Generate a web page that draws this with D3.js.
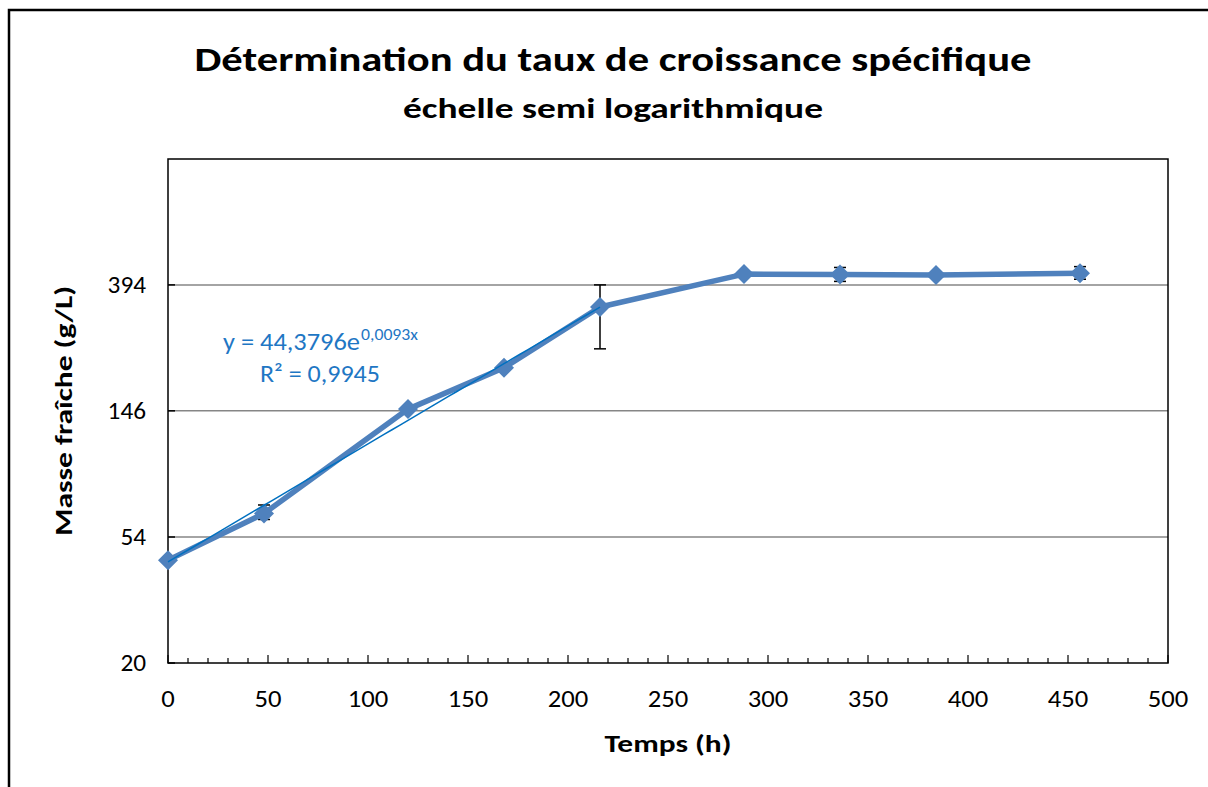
<!DOCTYPE html>
<html>
<head>
<meta charset="utf-8">
<script src="https://cdn.jsdelivr.net/npm/d3@7.9.0/dist/d3.min.js"></script>
<style>
  body { margin: 0; background: #fff; }
  svg { display: block; font-family: Carlito, Calibri, Lato, "Open Sans", sans-serif; }
</style>
</head>
<body>
<svg width="1208" height="787"></svg>
<script>
// heures de prélèvement
const hours = [0, 48, 120, 168, 216, 288, 336, 384, 456];
// masse fraîche (g/L)
const masse = [45, 65, 148, 205, 331, 429, 428, 426, 432];
// bornes des barres d'erreur (bas / haut), null = pas de barre
const errLow = [null, 62, null, null, 238, null, 405, null, 412];
const errHigh = [null, 69.5, null, null, 394, null, 452, null, 455];

const yTickLabels = [20, 54, 146, 394];
const xTickLabels = [0, 50, 100, 150, 200, 250, 300, 350, 400, 450, 500];

// courbe de tendance exponentielle (Excel)
const trendA = 44.3796, trendB = 0.0093;
const trendRange = [0, 216];

const svg = d3.select('svg');
const plotL = 168, plotR = 1168, plotT = 159, plotB = 663;

// cadre extérieur
svg.append('rect')
    .attr('x', 9).attr('y', 10)
    .attr('width', 1300).attr('height', 900)
    .attr('fill', 'none').attr('stroke', '#000').attr('stroke-width', 2.5);

const x = d3.scaleLinear().domain([0, 500]).range([plotL, plotR]);
const y = d3.scaleLog().base(2.7).domain([20, 20 * Math.pow(2.7, 4)]).range([plotB, plotT]);

// grille
svg.append('g').selectAll('line')
    .data(yTickLabels.slice(1))
    .join('line')
    .attr('x1', plotL).attr('x2', plotR)
    .attr('y1', d => y(d)).attr('y2', d => y(d))
    .attr('stroke', '#868686').attr('stroke-width', 1.5);

// cadre du graphe
svg.append('rect')
    .attr('x', plotL).attr('y', plotT)
    .attr('width', plotR - plotL).attr('height', plotB - plotT)
    .attr('fill', 'none').attr('stroke', '#000').attr('stroke-width', 1.5);

// axe x : graduations vers l'intérieur
const minor = d3.range(0, 501, 10);
svg.append('g').selectAll('line')
    .data(minor)
    .join('line')
    .attr('x1', d => x(d)).attr('x2', d => x(d))
    .attr('y1', plotB).attr('y2', d => d % 50 === 0 ? plotB - 8 : plotB - 5)
    .attr('stroke', '#000').attr('stroke-width', 1.2);

svg.append('g').selectAll('text')
    .data(xTickLabels)
    .join('text')
    .attr('x', d => x(d)).attr('y', 707)
    .attr('text-anchor', 'middle')
    .attr('font-size', 24)
    .attr('textLength', d => String(d).length * 13.5)
    .attr('lengthAdjust', 'spacingAndGlyphs')
    .text(d => d);

// axe y
svg.append('g').selectAll('line')
    .data(yTickLabels)
    .join('line')
    .attr('x1', plotL).attr('x2', plotL + 7)
    .attr('y1', d => y(d)).attr('y2', d => y(d))
    .attr('stroke', '#000').attr('stroke-width', 1.5);

svg.append('g').selectAll('text')
    .data(yTickLabels)
    .join('text')
    .attr('x', 146).attr('y', d => y(d) + 8)
    .attr('text-anchor', 'end')
    .attr('font-size', 24)
    .attr('textLength', d => String(d).length * 12.8)
    .attr('lengthAdjust', 'spacingAndGlyphs')
    .text(d => d);

// titres
svg.append('text')
    .attr('x', 613).attr('y', 71)
    .attr('text-anchor', 'middle')
    .attr('font-size', 34).attr('font-weight', 'bold')
    .attr('textLength', 837).attr('lengthAdjust', 'spacingAndGlyphs')
    .text('Détermination du taux de croissance spécifique');

svg.append('text')
    .attr('x', 613).attr('y', 118)
    .attr('text-anchor', 'middle')
    .attr('font-size', 28).attr('font-weight', 'bold')
    .attr('textLength', 420).attr('lengthAdjust', 'spacingAndGlyphs')
    .text('échelle semi logarithmique');

svg.append('text')
    .attr('x', 668).attr('y', 752)
    .attr('text-anchor', 'middle')
    .attr('font-size', 24).attr('font-weight', 'bold')
    .attr('textLength', 127).attr('lengthAdjust', 'spacingAndGlyphs')
    .text('Temps (h)');

svg.append('text')
    .attr('transform', 'translate(72,411) rotate(-90)')
    .attr('text-anchor', 'middle')
    .attr('font-size', 25).attr('font-weight', 'bold')
    .attr('textLength', 250).attr('lengthAdjust', 'spacingAndGlyphs')
    .text('Masse fraîche (g/L)');

// barres d'erreur
const eb = svg.append('g').attr('stroke', '#000').attr('stroke-width', 1.5);
hours.forEach((h, i) => {
    if (errLow[i] == null) return;
    const cx = x(h);
    eb.append('line').attr('x1', cx).attr('x2', cx).attr('y1', y(errLow[i])).attr('y2', y(errHigh[i]));
    eb.append('line').attr('x1', cx - 6).attr('x2', cx + 6).attr('y1', y(errLow[i])).attr('y2', y(errLow[i]));
    eb.append('line').attr('x1', cx - 6).attr('x2', cx + 6).attr('y1', y(errHigh[i])).attr('y2', y(errHigh[i]));
});

// série
const pts = hours.map((h, i) => [h, masse[i]]);
svg.append('path')
    .datum(pts)
    .attr('fill', 'none')
    .attr('stroke', '#4f81bd')
    .attr('stroke-width', 5.5)
    .attr('stroke-linejoin', 'round')
    .attr('d', d3.line().x(d => x(d[0])).y(d => y(d[1])));

svg.append('g').selectAll('path')
    .data(pts)
    .join('path')
    .attr('transform', d => `translate(${x(d[0])},${y(d[1])})`)
    .attr('d', 'M0,-10L10,0L0,10L-10,0Z')
    .attr('fill', '#4f81bd');

// tendance
const trendPts = d3.range(trendRange[0], trendRange[1] + 1, 4).map(t => [t, trendA * Math.exp(trendB * t)]);
svg.append('path')
    .datum(trendPts)
    .attr('fill', 'none')
    .attr('stroke', '#0070c0')
    .attr('stroke-width', 1.5)
    .attr('d', d3.line().x(d => x(d[0])).y(d => y(d[1])));

// équation
svg.append('text')
    .attr('x', 223).attr('y', 350)
    .attr('font-size', 25)
    .attr('fill', '#1f77c4')
    .attr('textLength', 137).attr('lengthAdjust', 'spacingAndGlyphs')
    .text('y = 44,3796e');
svg.append('text')
    .attr('x', 361).attr('y', 340)
    .attr('font-size', 17)
    .attr('fill', '#1f77c4')
    .attr('textLength', 57).attr('lengthAdjust', 'spacingAndGlyphs')
    .text('0,0093x');

svg.append('text')
    .attr('x', 260).attr('y', 382)
    .attr('font-size', 25)
    .attr('fill', '#1f77c4')
    .attr('textLength', 120).attr('lengthAdjust', 'spacingAndGlyphs')
    .text('R² = 0,9945');
</script>
</body>
</html>
